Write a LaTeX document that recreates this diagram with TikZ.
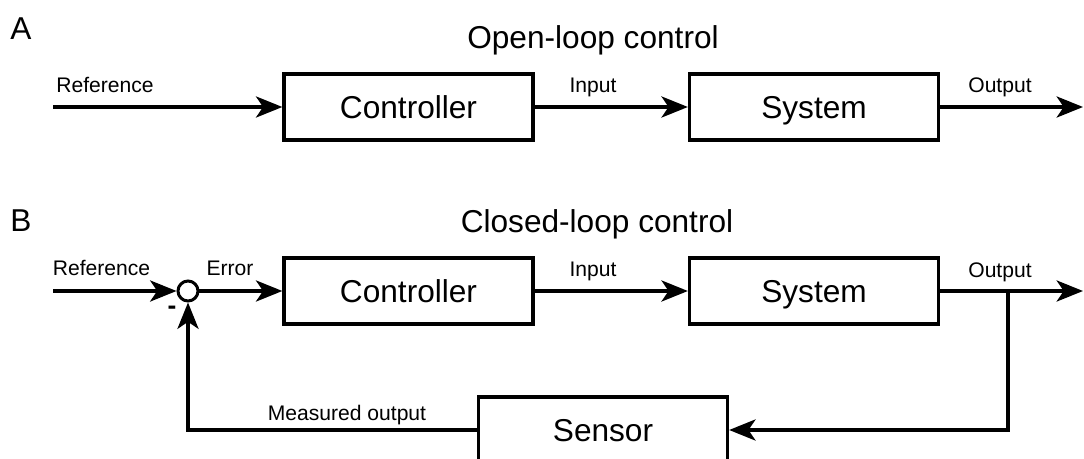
\documentclass[tikz,border=0pt]{standalone}
\usepackage{fontspec}
\setmainfont{Liberation Sans}
\usetikzlibrary{arrows.meta}

\begin{document}
\begin{tikzpicture}[x=0.02cm, y=-0.02cm,
		blk/.style={draw, line width=1.9pt, minimum width=4.98cm, minimum height=1.32cm, inner sep=0pt, text height=12.9pt, text depth=0pt, font=\fontsize{18}{20}\selectfont},
		lbl/.style={anchor=base, inner sep=0pt, font=\fontsize{12}{14}\selectfont},
		ttl/.style={anchor=base, inner sep=0pt, font=\fontsize{18}{20}\selectfont},
		wire/.style={line width=1.9pt, -{Stealth[length=15pt, width=12pt, inset=4pt]}}]
			%%%%% START %%%%%
			\useasboundingbox (0, 0) rectangle (1084, 459);
			
			% A: open loop
			\node[ttl, anchor=base west] (tagA) at (10, 40) {A};
			\node[ttl] (titleA) at (593, 49) {Open-loop control};
			
			\coordinate (refA) at (53, 107);
			\coordinate (outA) at (1083, 107);
			\node[blk] (ctrlA) at (408.5, 107) {Controller};
			\node[blk] (sysA) at (814, 107) {System};
			
			\draw[wire] (refA) -- (ctrlA.west);
			\draw[wire] (ctrlA.east) -- (sysA.west);
			\draw[wire] (sysA.east) -- (outA);
			
			\node[lbl] (refAtxt) at (105, 93) {Reference};
			\node[lbl] (inAtxt) at (593, 93) {Input};
			\node[lbl] (outAtxt) at (1000, 93) {Output};
			
			% B: closed loop
			\node[ttl, anchor=base west] (tagB) at (10, 231) {B};
			\node[ttl] (titleB) at (597, 232) {Closed-loop control};
			
			\coordinate (refB) at (53, 291);
			\coordinate (outB) at (1083, 291);
			\coordinate (tap) at (1008, 291);
			\node[draw, circle, line width=1.7pt, minimum size=0.4cm, inner sep=0pt] (sum) at (188, 291) {};
			\node[blk] (ctrlB) at (408.5, 291) {Controller};
			\node[blk] (sysB) at (814, 291) {System};
			\node[blk] (sensor) at (603, 430) {Sensor};
			
			\draw[wire] (refB) -- (sum.west);
			\draw[wire] (sum.east) -- (ctrlB.west);
			\draw[wire] (ctrlB.east) -- (sysB.west);
			\draw[wire] (sysB.east) -- (outB);
			\draw[wire] (tap) |- (sensor.east);
			\draw[wire] (sensor.west) -| (sum.south);
			
			\node[lbl] (refBtxt) at (101.5, 275) {Reference};
			\node[lbl] (errtxt) at (230, 275) {Error};
			\node[lbl] (inBtxt) at (593, 276) {Input};
			\node[lbl] (outBtxt) at (1000, 277) {Output};
			\node[lbl] (meastxt) at (347, 420) {Measured output};
			\node[lbl, anchor=center, font=\fontsize{15}{16}\bfseries] (minus) at (172, 310) {-};
			
			%%%%% END %%%%%
\end{tikzpicture}
\end{document}
